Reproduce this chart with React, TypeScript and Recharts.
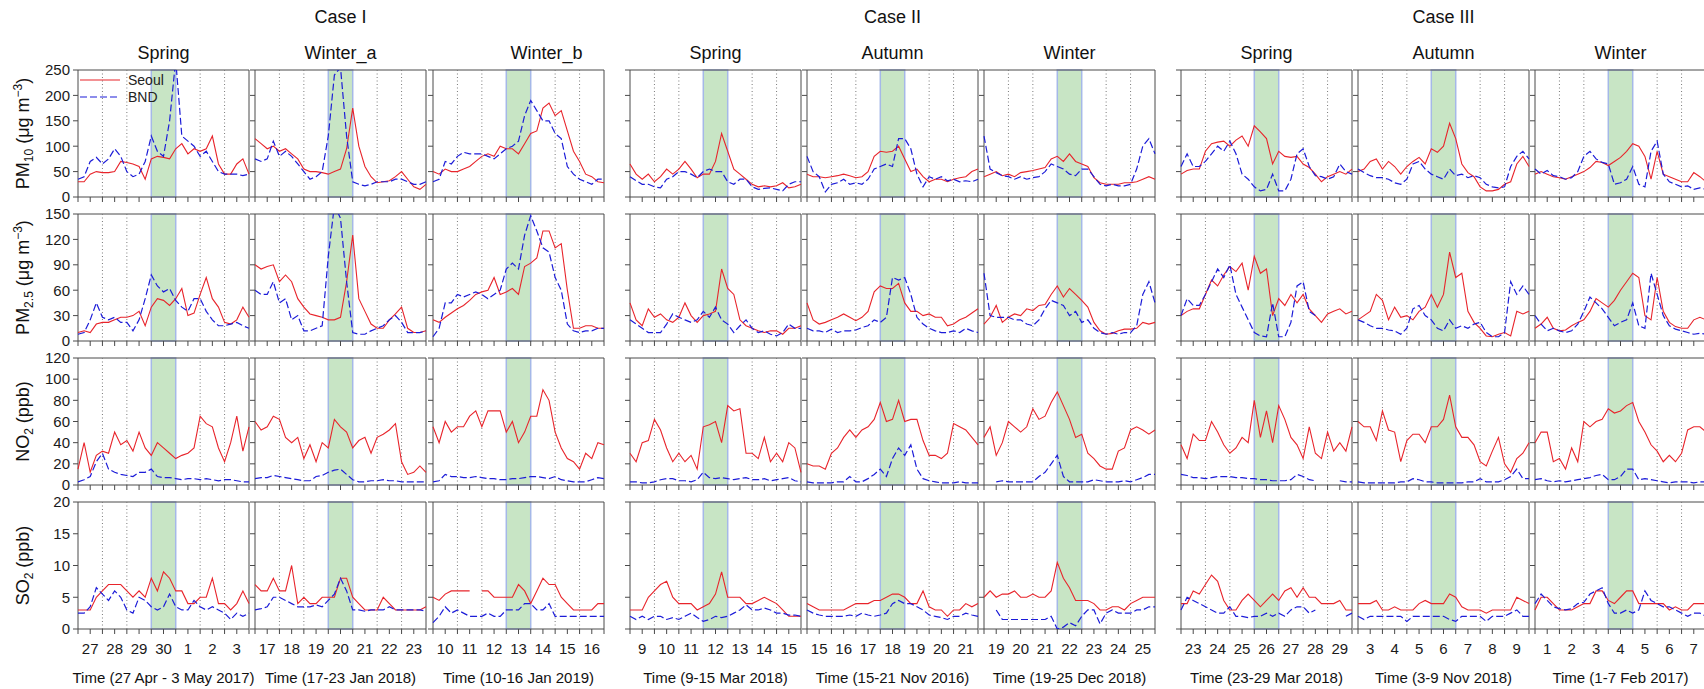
import React from 'react';
import { LineChart, Line, XAxis, YAxis, ReferenceArea, ReferenceLine } from 'recharts';

const FONT = '"Liberation Sans", Arial, Helvetica, sans-serif';
const RED = '#e8242b';
const BLUE = '#1c1cd8';
const AX = '#4a4a4a';

// hours from the start of each 7-day window (6-hourly readings)
const hours = [0, 6, 12, 18, 24, 30, 36, 42, 48, 54, 60, 66, 72, 78, 84, 90, 96, 102, 108, 114, 120, 126, 132, 138, 144, 150, 156, 162, 168];
const xTicks = [0, 12, 24, 36, 48, 60, 72, 84, 96, 108, 120, 132, 144, 156, 168];
const dayLines = [24, 48, 120, 144];
const eventDay = [72, 96];

const caseNames = ['Case I', 'Case II', 'Case III'];
const seasons = ['Spring', 'Winter_a', 'Winter_b', 'Spring', 'Autumn', 'Winter', 'Spring', 'Autumn', 'Winter'];
const dayLabels = [
  ['27', '28', '29', '30', '1', '2', '3'],
  ['17', '18', '19', '20', '21', '22', '23'],
  ['10', '11', '12', '13', '14', '15', '16'],
  ['9', '10', '11', '12', '13', '14', '15'],
  ['15', '16', '17', '18', '19', '20', '21'],
  ['19', '20', '21', '22', '23', '24', '25'],
  ['23', '24', '25', '26', '27', '28', '29'],
  ['3', '4', '5', '6', '7', '8', '9'],
  ['1', '2', '3', '4', '5', '6', '7'],
];
const periods = [
  'Time (27 Apr - 3 May 2017)', 'Time (17-23 Jan 2018)', 'Time (10-16 Jan 2019)',
  'Time (9-15 Mar 2018)', 'Time (15-21 Nov 2016)', 'Time (19-25 Dec 2018)',
  'Time (23-29 Mar 2018)', 'Time (3-9 Nov 2018)', 'Time (1-7 Feb 2017)',
];

// PM10 (ug m-3), one list per panel
const pm10Seoul = [
  [30, 30, 45, 50, 48, 48, 50, 70, 68, 65, 60, 35, 75, 80, 78, 75, 95, 105, 85, 95, 90, 95, 120, 65, 45, 45, 65, 75, 45],
  [115, 105, 95, 100, 90, 95, 85, 75, 55, 50, 50, 48, 45, 50, 55, 95, 175, 100, 60, 40, 28, 30, 32, 40, 50, 35, 20, 15, 25],
  [50, 45, 55, 50, 50, 55, 60, 70, 80, 85, 80, 100, 95, 95, 85, 105, 125, 130, 175, 185, 160, 170, 130, 90, 70, 45, 40, 30, 28],
  [65, 45, 35, 45, 30, 40, 55, 45, 55, 70, 55, 38, 45, 45, 70, 125, 90, 55, 45, 35, 25, 20, 22, 20, 22, 28, 18, 20, 25],
  [45, 40, 40, 38, 40, 42, 45, 42, 38, 40, 50, 80, 90, 88, 90, 100, 75, 50, 55, 40, 30, 35, 35, 30, 35, 38, 40, 50, 55],
  [40, 45, 50, 42, 45, 40, 48, 50, 52, 55, 58, 75, 80, 70, 85, 70, 65, 60, 38, 28, 25, 25, 25, 28, 28, 30, 35, 40, 35],
  [45, 52, 55, 55, 90, 105, 108, 110, 100, 112, 120, 100, 140, 128, 115, 65, 90, 80, 78, 80, 65, 58, 45, 30, 40, 45, 50, 45, 55],
  [50, 55, 70, 75, 55, 70, 60, 45, 60, 70, 78, 65, 95, 88, 100, 145, 115, 65, 48, 40, 20, 12, 12, 15, 25, 30, 65, 80, 60],
  [45, 50, 45, 40, 38, 35, 40, 45, 50, 58, 70, 68, 62, 70, 78, 90, 105, 100, 80, 35, 90, 45, 40, 35, 30, 30, 48, 40, 30],
];
const pm10Bnd = [
  [35, 40, 70, 78, 65, 75, 95, 80, 50, 40, 45, 70, 120, 90, 80, 150, 270, 120, 110, 100, 80, 90, 70, 50, 45, 45, 45, 42, 45],
  [75, 70, 75, 110, 80, 90, 80, 65, 50, 35, 40, 50, 120, 240, 255, 120, 30, 25, 22, 25, 30, 30, 30, 35, 35, 30, 25, 25, 30],
  [30, 35, 70, 65, 80, 88, 85, 85, 85, 80, 75, 85, 95, 100, 110, 160, 190, 170, 150, 150, 125, 115, 60, 45, 35, 30, 25, 35, 35],
  [40, 32, 25, 25, 20, 18, 35, 40, 50, 50, 45, 38, 50, 55, 50, 50, 30, 25, 35, 35, 20, 15, 17, 18, 15, 12, 25, 30, 30],
  [80, 50, 40, 10, 25, 28, 35, 25, 28, 25, 35, 55, 60, 65, 60, 115, 115, 95, 45, 20, 40, 35, 40, 32, 35, 30, 32, 30, 35],
  [120, 55, 48, 42, 40, 35, 40, 35, 38, 40, 50, 65, 60, 55, 45, 42, 55, 55, 40, 25, 22, 25, 22, 22, 25, 55, 100, 115, 85],
  [60, 85, 60, 60, 70, 85, 100, 90, 110, 85, 45, 35, 20, 12, 15, 45, 12, 12, 35, 85, 95, 60, 42, 40, 35, 40, 65, 50, 45],
  [55, 48, 42, 38, 38, 35, 28, 25, 35, 65, 70, 55, 45, 40, 35, 55, 42, 45, 38, 42, 38, 25, 20, 18, 20, 60, 80, 90, 75],
  [55, 45, 52, 42, 40, 35, 38, 50, 80, 90, 75, 68, 65, 25, 28, 35, 60, 25, 20, 90, 110, 45, 30, 25, 20, 22, 15, 18, 15],
];

// PM2.5 (ug m-3)
const pm25Seoul = [
  [10, 12, 10, 20, 22, 22, 25, 28, 28, 30, 35, 18, 40, 50, 48, 42, 50, 62, 30, 33, 55, 75, 50, 40, 22, 20, 25, 40, 28],
  [90, 85, 88, 90, 70, 78, 70, 50, 40, 32, 30, 28, 25, 25, 28, 70, 125, 50, 35, 20, 15, 15, 25, 32, 40, 15, 10, 10, 12],
  [25, 22, 28, 33, 38, 42, 48, 55, 58, 60, 75, 55, 58, 62, 55, 88, 92, 98, 130, 130, 110, 115, 60, 15, 15, 18, 18, 15, 15],
  [45, 25, 18, 38, 28, 32, 25, 22, 28, 45, 30, 22, 30, 32, 35, 85, 62, 55, 25, 18, 15, 12, 10, 12, 12, 8, 15, 15, 18],
  [45, 25, 20, 22, 25, 28, 32, 28, 24, 28, 35, 58, 65, 62, 62, 68, 45, 35, 35, 30, 32, 28, 28, 18, 20, 25, 28, 33, 38],
  [20, 28, 42, 22, 28, 32, 30, 38, 36, 42, 43, 55, 65, 52, 62, 55, 48, 40, 22, 12, 8, 9, 12, 14, 14, 15, 22, 20, 22],
  [30, 35, 38, 38, 55, 72, 65, 78, 88, 82, 92, 60, 100, 80, 85, 30, 50, 42, 55, 45, 55, 38, 30, 22, 32, 35, 38, 32, 35],
  [25, 30, 35, 55, 48, 25, 40, 28, 30, 25, 35, 40, 55, 40, 55, 105, 75, 80, 35, 22, 15, 6, 5, 8, 10, 6, 35, 32, 35],
  [15, 20, 28, 15, 12, 13, 18, 22, 25, 35, 50, 45, 40, 48, 60, 70, 80, 75, 30, 25, 75, 35, 22, 17, 15, 15, 25, 28, 25],
];
const pm25Bnd = [
  [8, 10, 25, 45, 28, 25, 28, 22, 22, 12, 25, 50, 78, 65, 58, 62, 48, 40, 35, 50, 50, 35, 25, 18, 18, 20, 22, 18, 15],
  [60, 55, 55, 70, 45, 50, 25, 30, 12, 12, 15, 18, 100, 160, 145, 70, 10, 8, 8, 12, 15, 18, 25, 30, 22, 10, 10, 10, 12],
  [5, 15, 45, 45, 55, 52, 55, 58, 55, 50, 55, 60, 85, 92, 85, 125, 148, 130, 110, 105, 75, 60, 20, 12, 10, 12, 12, 15, 15],
  [25, 20, 15, 10, 10, 10, 20, 32, 28, 25, 22, 25, 35, 28, 40, 25, 20, 10, 18, 25, 15, 10, 12, 8, 6, 10, 20, 15, 15],
  [15, 12, 12, 10, 14, 10, 12, 12, 13, 16, 18, 25, 22, 28, 75, 72, 75, 55, 28, 20, 15, 12, 10, 10, 12, 10, 15, 12, 10],
  [80, 30, 28, 28, 28, 25, 25, 20, 18, 25, 38, 48, 45, 42, 30, 35, 22, 25, 15, 10, 8, 10, 8, 10, 10, 18, 55, 70, 45],
  [30, 50, 42, 42, 55, 70, 85, 75, 90, 55, 40, 25, 10, 6, 5, 45, 5, 5, 22, 65, 70, 35, 30, null, null, null, null, null, null],
  [25, 22, 18, 15, 15, 13, 12, 8, 15, 38, 42, 30, 25, 15, 12, 25, 15, 18, 15, 20, 22, 10, 5, 5, 10, 70, 55, 65, 55],
  [30, 20, 12, 15, 12, 10, 12, 20, 35, 52, 45, 38, 28, 18, 22, 25, 45, 18, 15, 80, 55, 30, 18, 14, 12, 10, 8, 9, 8],
];

// NO2 (ppb)
const no2Seoul = [
  [15, 40, 12, 28, 32, 30, 50, 38, 42, 32, 50, 35, 28, 40, 35, 30, 25, 28, 30, 35, 65, 58, 55, 35, 22, 40, 65, 32, 55],
  [60, 52, 55, 65, 62, 45, 40, 45, 25, 38, 22, 40, 35, 62, 55, 50, 35, 42, 45, 30, 45, 48, 52, 58, 22, 10, 12, 18, 12],
  [55, 40, 60, 50, 55, 55, 65, 70, 55, 70, 70, 70, 50, 60, 40, 50, 65, 65, 90, 80, 50, 35, 25, 22, 15, 30, 25, 40, 38],
  [30, 22, 40, 42, 62, 52, 35, 22, 30, 22, 28, 15, 55, 57, 60, 40, 75, 70, 72, 30, 30, 25, 45, 22, 30, 22, 40, 35, 12],
  [20, 18, 18, 15, 30, 35, 45, 52, 45, 52, 55, 62, 78, 60, 62, 80, 60, 62, 62, 42, 28, 28, 25, 30, 58, 55, 52, 45, 38],
  [45, 55, 28, 40, 60, 55, 50, 55, 72, 62, 65, 78, 88, 75, 62, 45, 48, 30, 25, 18, 15, 15, 32, 35, 52, 55, 52, 48, 52],
  [38, 25, 48, 42, 42, 60, 50, 38, 30, 35, 45, 40, 80, 45, 70, 40, 75, 62, 45, 38, 25, 55, 30, 25, 50, 32, 40, 32, 55],
  [60, 55, 55, 42, 70, 52, 50, 22, 42, 48, 48, 40, 55, 55, 62, 85, 55, 45, 45, 38, 22, 18, 32, 45, 20, 12, 25, 30, 40],
  [40, 50, 50, 22, 25, 15, 35, 22, 60, 55, 60, 62, 72, 68, 70, 75, 78, 60, 50, 38, 32, 22, 28, 22, 30, 52, 55, 55, 50],
];
const no2Bnd = [
  [3, 5, 8, 22, 30, 15, 12, 10, 9, 8, 12, 12, 15, 8, 7, 7, 6, 5, 6, 6, 5, 6, 5, 4, 5, 5, 4, 3, 3],
  [6, 7, 7, 9, 8, 7, 6, 5, 4, 4, 8, 9, 12, 14, 15, 10, 5, 3, 3, 4, 4, 5, 4, 4, 3, 3, 3, 3, 3],
  [3, 4, 10, 8, 8, 7, 7, 8, 7, 6, 6, 5, 5, 6, 6, 7, 8, 8, 7, 6, 8, 5, 4, 3, 3, 3, 5, 7, 6],
  [3, 3, 2, 2, 3, 5, 6, 6, 4, 4, 3, 5, 12, 7, 6, 7, 6, 5, 6, 7, 5, 5, 6, 4, 5, 6, 7, 4, 3],
  [3, 2, 2, 2, 2, 3, 3, 8, 3, 3, 6, 10, 15, 8, 25, 35, 28, 38, 15, 6, 4, 3, 2, 2, 2, 3, 2, 2, 2],
  [null, null, 3, 4, 3, 3, 3, 3, 3, 8, 12, 20, 28, 8, 3, 3, 3, 3, 5, 4, 3, 3, 3, 4, 3, 5, 7, 10, 10],
  [10, 9, 7, 7, 6, 7, 8, 8, 8, 7, 7, 6, 6, 5, 5, 4, 4, 4, 5, 10, 8, 5, 4, null, null, null, 4, 3, 3],
  [3, 2, 2, 2, 2, 2, 2, 3, 3, 6, 5, 3, 3, 2, 2, 2, 2, 2, 3, 3, 6, 3, 3, 3, 5, 8, 15, 6, 6],
  [5, 6, 4, 3, 4, 3, 4, 5, 6, 7, 9, 10, 5, 5, 8, 15, 15, 5, 6, 5, 4, 3, 2, 3, 3, 3, 2, 3, 3],
];

// SO2 (ppb)
const so2Seoul = [
  [3, 3, 3, 5, 6, 7, 7, 7, 6, 5, 6, 5, 8, 6, 9, 8, 6, 6, 4, 4, 5, 5, 8, 4, 4, 3, 4, 6, 4],
  [7, 6, 6, 8, 6, 6, 10, 4, 5, 4, 4, 5, 5, 5, 8, 8, 5, 4, 3, 3, 3, 5, 4, 3, 3, 3, 3, 3, 3.5],
  [5, 4.5, 5.5, 6, 6, 6, 6, null, 6, 6, 5, 5, 5, 5, 7, 6, 4, 6, 8, 7, 7, 5, 4, 3, 3, 3, 3, 4, 4],
  [3, 3, 3, 5, 6, 7, 7.5, 5, 4, 4, 4, 3, 3.5, 4, 5.5, 9, 5, 5, 5, 4, 4, 4.5, 5, 4.5, 4, 3, 2, 2, 2],
  [4, 3.5, 3, 3, 3, 3, 3, 3.5, 4, 4, 4, 4.5, 4.5, 5, 5.5, 5.5, 5, 4, 4, 6, 3.5, 3, 3, 2, 3, 3, 4, 3.5, 4],
  [5, 6, 5, 5.5, 5.5, 6, 5, 5, 5.5, 5, 5, 6, 10.5, 8, 6.5, 4.5, 4.5, 4.5, 4, 3, 3, 3.5, 3.5, 3, 4, 4.5, 5, 5, 5],
  [4, 4, 6, 5.5, 7, 8.5, 7.5, 4.5, 3, 3, 4.5, 5.5, 4.5, 3.5, 4.5, 5.5, 4.5, 6, 6.5, 5, 6.5, 5, 5, 4, 4, 4, 4.5, 3, 3],
  [4, 4, 4, 4.5, 3, 3, 3.5, 3, 3, 3, 4, 4.5, 4, 4, 4, 5.5, 5, 3.5, 3, 3, 3, 2.5, 3, 3, 3, 3, 5, 4.5, 4],
  [3, 5, 5, 4, 3, 3, 3, 3.5, 4, 4, 6, 6, 4.5, 4, 5, 6, 6, 4, 4, 4, 4, 4, 3, 3.5, 3, 3, 4, 4, 4],
];
const so2Bnd = [
  [2.5, 2.5, 3.5, 6.5, 5.5, 4.5, 6, 5, 3, 2.5, 5, 4.5, 3.5, 3, 3.5, 5.5, 3.5, 3, 3, 4.5, 3.5, 3, 3.5, 3, 2.5, 1.5, 2.5, 2, 2.5],
  [3, 3.2, 3.5, 5, 5, 4.5, 4, 3.5, 3.5, 3.5, 3.8, 3.5, 4.5, 5.5, 8, 6, 3, 3, 2.8, 3, 3, 3, 3.5, 3, 3, 3, 3, 3, 2.8],
  [1, 2, 3.5, 2.5, 3, 2.5, 2, 2, 2, 2.5, 2, 2, 3, 3, 3, 4, 4, 3, 3, 4, 2, 2, 2, 2, 2, 2, 2, 2, 2],
  [2, 1.5, 2, 1.5, 2, 2, 1.5, 1.8, 1.5, 2, 2.5, 1.8, 1.2, 1.5, 2, 1.8, 2, 2.5, 3, 3.8, 3, 3, 3.3, 3, 2.5, 2.5, 2.2, 2.2, 2],
  [3, 2.5, 2.2, 2, 2, 2, 2, 2.2, 2, 2.5, 2.2, 2, 2.2, 2.5, 4, 4.5, 4, 4, 3.5, 3, 2.2, 2, 1.8, 1.5, 2, 2, 2.5, 2.2, 2],
  [null, null, 3, 1.5, 1.5, 1.5, 1.5, 1.5, 1.5, 1.5, 1.5, 2, 0, 0.3, 1, 0.5, 2, 3, 3, 0.8, 2.5, 3, 2.5, 2.5, 2.5, 3, 3, 3.5, 3.5],
  [3, 5, 4.5, 4, 3.5, 3, 2.5, 2.5, 3.5, 2, 2, 1.8, 2, 2, 2.5, 2, 2.5, 2, 3, 3.5, 3.5, 2.5, 3, null, null, null, null, 2, 2.5],
  [2, 1.5, 2, 2, 2, 2, 2, 2, 1.2, 2, 2, 2, 2, 2, 2, 1.5, 1.2, 2, 2, 2, 2, 1.2, 2, 2, 2, 2.5, 3, 2, 2],
  [4, 5.5, 4.5, 3.5, 3.2, 3, 3.2, 4, 4.2, 5.5, 6, 6.5, 4, 2.5, 2.5, 3, 2.5, 3, 6, 4.5, 4, 3.5, 3.5, 3, 2.5, 2, 2.5, 2.5, 2],
];

const rows = [
  { key: 'pm10', max: 250, ticks: [0, 50, 100, 150, 200, 250], seoul: pm10Seoul, bnd: pm10Bnd },
  { key: 'pm25', max: 150, ticks: [0, 30, 60, 90, 120, 150], seoul: pm25Seoul, bnd: pm25Bnd },
  { key: 'no2', max: 120, ticks: [0, 20, 40, 60, 80, 100, 120], seoul: no2Seoul, bnd: no2Bnd },
  { key: 'so2', max: 20, ticks: [0, 5, 10, 15, 20], seoul: so2Seoul, bnd: so2Bnd },
];

// layout
const colLeft = [78, 255, 433, 630, 807, 984, 1181, 1358, 1535];
const rowTop = [70, 214, 358, 502];
const PW = 171;
const PH = 127;
const AXW = 50;
const MT = 10;
const MR = 10;
const XH = 35;

const Panel = ({ r, c }: { r: number; c: number }) => {
  const row = rows[r];
  const data = hours.map((h, i) => ({
    h,
    seoul: row.seoul[c][i] ?? null,
    bnd: row.bnd[c][i] ?? null,
  }));
  const last = r === rows.length - 1;
  const tickStyle = { fontSize: 15, fill: '#1a1a1a', fontFamily: FONT };
  return (
    <div style={{ position: 'absolute', left: colLeft[c] - AXW, top: rowTop[r] - MT }}>
      <LineChart
        width={PW + AXW + MR}
        height={PH + MT + XH}
        data={data}
        margin={{ top: MT, right: MR, bottom: 0, left: 0 }}>
        <XAxis
          dataKey="h"
          type="number"
          domain={[0, 168]}
          ticks={xTicks}
          interval={0}
          height={XH}
          axisLine={false}
          tickSize={5}
          tickMargin={9}
          tickLine={{ stroke: AX }}
          tick={tickStyle}
          tickFormatter={(v: number) => (last && v % 24 === 12 ? dayLabels[c][(v - 12) / 24] : '')}
        />
        <YAxis
          type="number"
          domain={[0, row.max]}
          ticks={row.ticks}
          interval={0}
          width={AXW}
          allowDataOverflow
          axisLine={false}
          tickSize={5}
          tickMargin={3}
          tickLine={{ stroke: AX }}
          tick={tickStyle}
          tickFormatter={(v: number) => (c === 0 ? String(v) : '')}
        />
        <ReferenceArea
          x1={eventDay[0]}
          x2={eventDay[1]}
          fill="#c8e5c5"
          fillOpacity={1}
          stroke="#a5b8e8"
          strokeWidth={1.5}
        />
        {dayLines.map((d) => (
          <ReferenceLine key={d} x={d} stroke="#7a7a7a" strokeDasharray="1 2.5" />
        ))}
        <Line
          type="linear"
          dataKey="seoul"
          stroke={RED}
          strokeWidth={1.1}
          dot={false}
          isAnimationActive={false}
        />
        <Line
          type="linear"
          dataKey="bnd"
          stroke={BLUE}
          strokeWidth={1.2}
          strokeDasharray="7 3"
          dot={false}
          isAnimationActive={false}
        />
        <ReferenceArea x1={0} x2={168} y1={0} y2={row.max} fill="none" stroke={AX} strokeWidth={1} />
      </LineChart>
    </div>
  );
};

const YLabel = ({ r }: { r: number }) => {
  const cy = rowTop[r] + PH / 2;
  const common = { transform: `translate(29, ${cy}) rotate(-90)`, textAnchor: 'middle' as const, fontSize: 18, fill: '#111' };
  if (r === 0 || r === 1) {
    return (
      <text {...common}>
        PM<tspan fontSize={12} dy={4}>{r === 0 ? '10' : '2.5'}</tspan>
        <tspan dy={-4}> (μg m</tspan>
        <tspan fontSize={12} dy={-7}>−3</tspan>
        <tspan dy={7}>)</tspan>
      </text>
    );
  }
  return (
    <text {...common}>
      {r === 2 ? 'NO' : 'SO'}
      <tspan fontSize={12} dy={4}>2</tspan>
      <tspan dy={-4}> (ppb)</tspan>
    </text>
  );
};

const label = (x: number, y: number, size: number): React.CSSProperties => ({
  position: 'absolute',
  left: x,
  top: y,
  transform: 'translate(-50%, -50%)',
  whiteSpace: 'nowrap',
  fontSize: size,
  color: '#111',
});

export default function App() {
  const centers = colLeft.map((l) => l + PW / 2);
  const seasonShift = [0, 0, 28, 0, 0, 0, 0, 0, 0];
  return (
    <div
      style={{
        position: 'absolute',
        left: 0,
        top: 0,
        width: 1704,
        height: 689,
        overflow: 'hidden',
        background: '#fff',
        fontFamily: FONT,
      }}>
      {caseNames.map((n, i) => (
        <div key={n} style={label(centers[i * 3 + 1], 17, 18)}>
          {n}
        </div>
      ))}
      {seasons.map((s, i) => (
        <div key={i} style={label(centers[i] + seasonShift[i], 53, 18)}>
          {s}
        </div>
      ))}
      {rows.map((_, r) => colLeft.map((__, c) => <Panel key={`${r}-${c}`} r={r} c={c} />))}
      {periods.map((p, i) => (
        <div key={p} style={label(centers[i], 677, 15)}>
          {p}
        </div>
      ))}
      <svg style={{ position: 'absolute', left: 0, top: 0 }} width={60} height={689} fontFamily={FONT}>
        {rows.map((_, r) => (
          <YLabel key={r} r={r} />
        ))}
      </svg>
      <svg style={{ position: 'absolute', left: 78, top: 72 }} width={90} height={36} fontFamily={FONT}>
        <line x1={2} x2={42} y1={8} y2={8} stroke={RED} strokeWidth={1.2} />
        <text x={50} y={13} fontSize={14} fill="#222">Seoul</text>
        <line x1={2} x2={42} y1={25} y2={25} stroke={BLUE} strokeWidth={1.2} strokeDasharray="7 3" />
        <text x={50} y={30} fontSize={14} fill="#222">BND</text>
      </svg>
    </div>
  );
}
